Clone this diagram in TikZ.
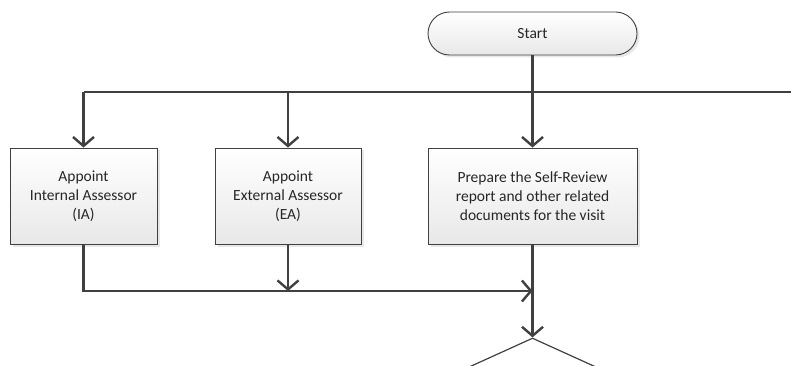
\documentclass[tikz,border=0pt]{standalone}
\usepackage{fontspec}
\setmainfont{Carlito}
\usetikzlibrary{arrows.meta,shadows,shapes.geometric}
\definecolor{lineC}{HTML}{404040}
\definecolor{txtC}{HTML}{262626}
\tikzset{
  procbox/.style={draw=lineC, line width=0.9pt, top color=white, bottom color=black!9,
    drop shadow={opacity=0.18, shadow xshift=2.5pt, shadow yshift=-2.5pt},
    align=center, text=txtC, inner sep=0pt,
    font=\fontsize{15.5pt}{19pt}\selectfont},
  conn/.style={draw=lineC, line width=2.4pt},
  arr/.style={conn, -{Straight Barb[length=9pt,width=21pt]}},
}
\begin{document}
\begin{tikzpicture}[x=1pt,y=-1pt]
\useasboundingbox (0,0) rectangle (791,366);
\clip (0,0) rectangle (791,366);
\node[procbox, rounded corners=21.5pt, minimum width=209pt, minimum height=43pt] (start) at (532.5,33.5) {Start};
\node[procbox, minimum width=147pt, minimum height=96pt] (ia) at (83.5,196) {Appoint\\Internal Assessor\\(IA)};
\node[procbox, minimum width=146pt, minimum height=96pt] (ea) at (288,196) {Appoint\\External Assessor\\(EA)};
\node[procbox, minimum width=209pt, minimum height=96pt] (prep) at (532.5,196) {Prepare the Self-Review\\report and other related\\documents for the visit};
\node[draw=lineC, line width=1.2pt, shape=diamond, aspect=2.2, minimum width=264pt, minimum height=120pt, inner sep=0pt, fill=white] (dec) at (532.5,398) {};
\coordinate (hl) at (83.5,92);
\coordinate (hr) at (791,92);
\coordinate (hm) at (288,92);
\coordinate (join) at (532.5,291);
\coordinate (iabot) at (83.5,291);
\coordinate (eabot) at (288,291);
\draw[conn] (hl) -- (hr);
\draw[arr] (start.south) -- (prep.north);
\draw[arr] (hl) -- (ia.north);
\draw[arr] (hm) -- (ea.north);
\draw[arr] (ia.south) -- (iabot) -- (join);
\draw[arr] (ea.south) -- (eabot);
\draw[arr] (prep.south) -- (dec.north);
\end{tikzpicture}
\end{document}
